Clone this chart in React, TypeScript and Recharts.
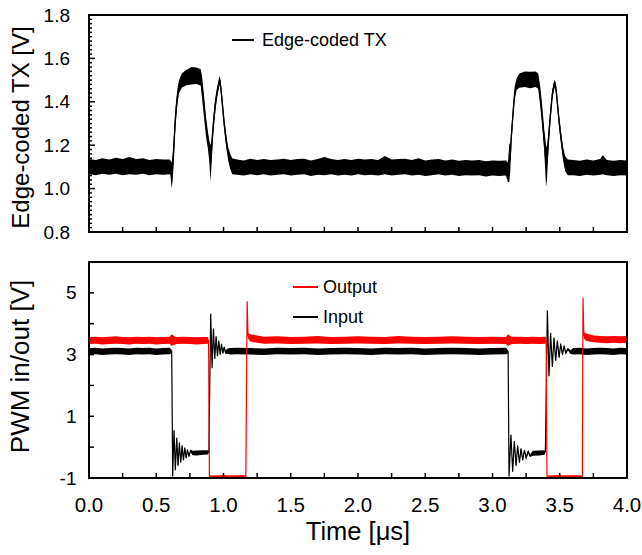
import React from 'react';
import { ComposedChart, Area, Line, XAxis, YAxis, ReferenceArea, Legend } from 'recharts';

const FONT = '"Liberation Sans", Arial, Helvetica, sans-serif';

// ---------- axes / labels ----------
const xTickLabels = ['0.0', '0.5', '1.0', '1.5', '2.0', '2.5', '3.0', '3.5', '4.0'];
const xMinorTicks = [0.25, 0.75, 1.25, 1.75, 2.25, 2.75, 3.25, 3.75];
const txTickLabels = ['0.8', '1.0', '1.2', '1.4', '1.6', '1.8'];
const pwmTickLabels = ['-1', '1', '3', '5'];
const pwmMinorTicks = [0, 2, 4, 6];
const txTitle = 'Edge-coded TX [V]';
const pwmTitle = 'PWM in/out [V]';
const timeTitle = 'Time [\u03bcs]';
const txName = 'Edge-coded TX';
const outName = 'Output';
const inName = 'Input';

// ---------- Edge-coded TX (envelope of noisy trace) ----------
const txTime = [
  0, 0.05, 0.10, 0.15, 0.20, 0.25, 0.30, 0.35, 0.40, 0.45, 0.50, 0.55, 0.60,
  0.605, 0.615, 0.622, 0.630, 0.640, 0.650, 0.660, 0.670, 0.690, 0.720, 0.760, 0.800, 0.830,
  0.840, 0.855, 0.870, 0.885, 0.895, 0.903, 0.910, 0.920, 0.935, 0.950, 0.965, 0.972, 0.980,
  0.990, 1.005, 1.020, 1.035, 1.050, 1.065,
  1.10, 1.15, 1.20, 1.25, 1.30, 1.35, 1.40, 1.45, 1.50, 1.55,
  1.60, 1.65, 1.70, 1.75, 1.80, 1.85, 1.90, 1.95, 2.00, 2.05,
  2.10, 2.15, 2.20, 2.25, 2.30, 2.35, 2.40, 2.45, 2.50, 2.55,
  2.60, 2.65, 2.70, 2.75, 2.80, 2.85, 2.90, 2.95, 3.00, 3.05,
  3.10,
  3.115, 3.125, 3.132, 3.140, 3.155, 3.165, 3.180, 3.200, 3.240, 3.280, 3.320, 3.340, 3.355, 3.370,
  3.385, 3.398, 3.405, 3.415, 3.430, 3.445, 3.460, 3.470, 3.480, 3.495, 3.510, 3.525, 3.540, 3.560,
  3.60, 3.65, 3.70, 3.75, 3.80, 3.82, 3.85, 3.90, 3.95, 4.00,
];
const txLow = [
  1.066, 1.062, 1.068, 1.064, 1.068, 1.062, 1.066, 1.064, 1.068, 1.062, 1.066, 1.064, 1.066,
  1.064, 1.000, 1.040, 1.120, 1.250, 1.340, 1.400, 1.440, 1.465, 1.475, 1.480, 1.482, 1.475,
  1.420, 1.330, 1.240, 1.180, 1.120, 1.030, 1.100, 1.220, 1.330, 1.410, 1.460, 1.480, 1.440,
  1.370, 1.270, 1.190, 1.130, 1.090, 1.066,
  1.064, 1.060, 1.066, 1.062, 1.066, 1.060, 1.064, 1.066, 1.060, 1.064,
  1.066, 1.058, 1.064, 1.062, 1.066, 1.060, 1.064, 1.060, 1.066, 1.062,
  1.064, 1.060, 1.066, 1.060, 1.064, 1.066, 1.060, 1.064, 1.058, 1.062,
  1.066, 1.060, 1.064, 1.058, 1.062, 1.060, 1.062, 1.056, 1.060, 1.058,
  1.060,
  1.030, 1.030, 1.080, 1.200, 1.330, 1.410, 1.455, 1.465, 1.468, 1.462, 1.468, 1.460, 1.380, 1.280,
  1.170, 1.010, 1.040, 1.170, 1.300, 1.410, 1.465, 1.450, 1.380, 1.280, 1.200, 1.130, 1.080, 1.062,
  1.062, 1.058, 1.064, 1.060, 1.064, 1.066, 1.062, 1.058, 1.062, 1.060,
];
const txHigh = [
  1.136, 1.132, 1.140, 1.134, 1.142, 1.136, 1.146, 1.136, 1.140, 1.132, 1.136, 1.134, 1.134,
  1.130, 1.120, 1.160, 1.240, 1.350, 1.420, 1.470, 1.500, 1.530, 1.545, 1.560, 1.558, 1.550,
  1.520, 1.430, 1.330, 1.260, 1.220, 1.200, 1.220, 1.300, 1.400, 1.460, 1.505, 1.520, 1.490,
  1.430, 1.330, 1.250, 1.190, 1.160, 1.140,
  1.134, 1.130, 1.138, 1.132, 1.136, 1.132, 1.134, 1.138, 1.132, 1.136,
  1.138, 1.130, 1.136, 1.146, 1.136, 1.132, 1.136, 1.132, 1.138, 1.134,
  1.136, 1.132, 1.150, 1.134, 1.136, 1.138, 1.132, 1.140, 1.130, 1.134,
  1.136, 1.130, 1.134, 1.128, 1.132, 1.130, 1.132, 1.126, 1.130, 1.128,
  1.130,
  1.120, 1.210, 1.200, 1.280, 1.400, 1.470, 1.510, 1.530, 1.540, 1.538, 1.540, 1.530, 1.470, 1.380,
  1.270, 1.200, 1.190, 1.260, 1.370, 1.460, 1.500, 1.490, 1.440, 1.340, 1.260, 1.190, 1.150, 1.134,
  1.132, 1.128, 1.134, 1.130, 1.136, 1.155, 1.132, 1.128, 1.132, 1.130,
];

// ---------- PWM Output (red) ----------
const outTime = [
  0, 0.05, 0.10, 0.15, 0.20, 0.25, 0.30, 0.35, 0.40, 0.45, 0.50, 0.55, 0.60,
  0.615, 0.625, 0.64,
  0.65, 0.70, 0.75, 0.80, 0.85,
  0.885, 0.889, 0.895,
  0.95, 1.00, 1.05, 1.10, 1.15,
  1.166, 1.176, 1.182, 1.20, 1.25,
  1.30, 1.40, 1.50, 1.60, 1.70, 1.80, 1.90, 2.00, 2.10, 2.20, 2.30, 2.40, 2.50, 2.60, 2.70, 2.80, 2.90, 3.00, 3.10,
  3.115, 3.125, 3.14,
  3.20, 3.25, 3.30, 3.35,
  3.395, 3.399, 3.405,
  3.45, 3.50, 3.55, 3.60, 3.65,
  3.668, 3.673, 3.679, 3.70, 3.75,
  3.80, 3.85, 3.90, 3.95, 4.00,
];
const outLow = [
  3.34, 3.35, 3.33, 3.34, 3.35, 3.34, 3.33, 3.35, 3.34, 3.35, 3.33, 3.34, 3.35,
  3.28, 3.30, 3.33,
  3.34, 3.35, 3.34, 3.33, 3.34,
  3.35, 3.42, -0.96,
  -0.97, -0.96, -0.97, -0.96, -0.97,
  -0.95, 4.73, 3.52, 3.42, 3.38,
  3.35, 3.36, 3.34, 3.35, 3.36, 3.34, 3.35, 3.36, 3.35, 3.34, 3.36, 3.35, 3.34, 3.35, 3.36, 3.35, 3.34, 3.35, 3.34,
  3.28, 3.30, 3.34,
  3.35, 3.34, 3.35, 3.34,
  3.35, 3.42, -0.96,
  -0.97, -0.96, -0.97, -0.96, -0.97,
  -0.95, 4.84, 3.52, 3.44, 3.40,
  3.38, 3.37, 3.38, 3.37, 3.38,
];
const outHigh = [
  3.57, 3.58, 3.56, 3.58, 3.59, 3.57, 3.56, 3.58, 3.57, 3.58, 3.56, 3.57, 3.58,
  3.66, 3.63, 3.58,
  3.57, 3.58, 3.57, 3.56, 3.57,
  3.57, 3.48, -0.92,
  -0.92, -0.91, -0.92, -0.92, -0.91,
  -0.93, 4.73, 3.70, 3.66, 3.62,
  3.58, 3.59, 3.57, 3.58, 3.60, 3.57, 3.58, 3.59, 3.58, 3.57, 3.60, 3.58, 3.57, 3.58, 3.59, 3.58, 3.57, 3.58, 3.57,
  3.66, 3.63, 3.58,
  3.58, 3.57, 3.58, 3.57,
  3.58, 3.48, -0.92,
  -0.92, -0.91, -0.92, -0.91, -0.92,
  -0.93, 4.84, 3.72, 3.68, 3.62,
  3.60, 3.59, 3.60, 3.59, 3.60,
];

// ---------- PWM Input (black) ----------
const inTime = [
  0, 0.05, 0.10, 0.15, 0.20, 0.25, 0.30, 0.35, 0.40, 0.45, 0.50, 0.55, 0.60,
  0.615, 0.622,
  0.632, 0.642, 0.652, 0.662, 0.672, 0.682, 0.692, 0.702, 0.712, 0.722, 0.732, 0.742, 0.755,
  0.77, 0.80, 0.85, 0.885,
  0.891, 0.905, 0.915, 0.925, 0.935, 0.945, 0.955, 0.965, 0.975, 0.985, 0.995, 1.005, 1.015, 1.03,
  1.05, 1.10, 1.20, 1.30, 1.40, 1.50, 1.60, 1.70, 1.80, 1.90, 2.00, 2.10, 2.20, 2.30, 2.40, 2.50, 2.60, 2.70, 2.80, 2.90, 3.00, 3.10,
  3.116, 3.123,
  3.137, 3.150, 3.162, 3.175, 3.187, 3.200, 3.212, 3.225, 3.237, 3.250, 3.265, 3.280,
  3.30, 3.35, 3.388,
  3.393, 3.408, 3.420, 3.432, 3.445, 3.457, 3.470, 3.482, 3.495, 3.507, 3.520, 3.532, 3.545, 3.56, 3.58,
  3.60, 3.65, 3.70, 3.75, 3.80, 3.85, 3.90, 3.95, 4.00,
];
const inLow = [
  3.00, 3.01, 2.99, 3.00, 3.01, 3.00, 2.99, 3.01, 3.00, 3.01, 2.99, 3.00, 3.01,
  3.05, -0.97,
  0.51, -0.79, 0.26, -0.64, 0.11, -0.54, 0.01, -0.46, -0.06, -0.39, -0.12, -0.34, -0.16,
  -0.26, -0.27, -0.25, -0.24,
  -0.17, 4.30, 2.53, 3.81, 2.83, 3.56, 2.92, 3.42, 2.97, 3.30, 3.00, 3.20, 3.02, 3.03,
  3.00, 3.01, 3.00, 2.99, 3.01, 3.00, 3.01, 2.99, 3.00, 3.01, 3.00, 2.99, 3.01, 3.00, 3.01, 2.99, 3.00, 3.01, 3.00, 2.99, 3.00, 3.01,
  3.04, -0.97,
  0.36, -0.84, 0.16, -0.64, 0.01, -0.54, -0.09, -0.46, -0.14, -0.39, -0.18, -0.32,
  -0.28, -0.27, -0.25,
  -0.16, 4.41, 2.27, 3.67, 2.57, 3.52, 2.77, 3.42, 2.87, 3.31, 2.96, 3.24, 3.01, 3.14, 3.02,
  3.00, 3.01, 2.99, 3.00, 3.01, 3.00, 2.99, 3.01, 3.00,
];
const inHigh = [
  3.21, 3.22, 3.20, 3.21, 3.22, 3.21, 3.20, 3.22, 3.21, 3.22, 3.20, 3.21, 3.22,
  3.15, -0.93,
  0.59, -0.71, 0.34, -0.56, 0.19, -0.46, 0.09, -0.38, 0.02, -0.31, -0.04, -0.26, -0.08,
  -0.12, -0.11, -0.10, -0.10,
  -0.17, 4.34, 2.59, 3.87, 2.89, 3.62, 2.98, 3.48, 3.03, 3.38, 3.08, 3.28, 3.12, 3.20,
  3.21, 3.22, 3.21, 3.20, 3.22, 3.21, 3.22, 3.20, 3.21, 3.22, 3.21, 3.20, 3.22, 3.21, 3.22, 3.20, 3.21, 3.22, 3.21, 3.20, 3.21, 3.22,
  3.14, -0.93,
  0.44, -0.76, 0.24, -0.56, 0.09, -0.46, -0.01, -0.38, -0.06, -0.31, -0.10, -0.24,
  -0.12, -0.11, -0.10,
  -0.16, 4.45, 2.33, 3.73, 2.63, 3.58, 2.83, 3.48, 2.93, 3.39, 3.04, 3.32, 3.09, 3.22, 3.14,
  3.21, 3.22, 3.20, 3.21, 3.22, 3.21, 3.20, 3.22, 3.21,
];

// ---------- helpers ----------
type Row = { t: number; band: [number, number]; mid: number };
function buildRows(t: number[], lo: number[], hi: number[]): Row[] {
  const n = Math.min(t.length, lo.length, hi.length);
  const rows: Row[] = [];
  for (let i = 0; i < n; i++) rows.push({ t: t[i], band: [lo[i], hi[i]], mid: (lo[i] + hi[i]) / 2 });
  return rows;
}
const txRows = buildRows(txTime, txLow, txHigh);
const outRows = buildRows(outTime, outLow, outHigh);
const inRows = buildRows(inTime, inLow, inHigh);

const near = (a: number, b: number) => Math.abs(a - b) < 1e-6;
const xTicks = [...xTickLabels.map(Number), ...xMinorTicks].sort((a, b) => a - b);
const txTicks: number[] = [];
for (let i = 0; i <= 50; i++) txTicks.push(Math.round((0.8 + i * 0.02) * 1000) / 1000);
const pwmTicks = [...pwmTickLabels.map(Number), ...pwmMinorTicks].sort((a, b) => a - b);

const TopXTick = (props: any) => {
  const { x, y } = props;
  return <line x1={x} y1={y} x2={x} y2={y - 5} stroke="#000" strokeWidth={1.5} />;
};
const BottomXTick = (props: any) => {
  const { x, y, payload } = props;
  const label = xTickLabels.find((l) => near(Number(l), payload.value));
  return (
    <g>
      <line x1={x} y1={y} x2={x} y2={y - 5} stroke="#000" strokeWidth={1.5} />
      {label && (
        <text x={x} y={y + 33.5} textAnchor="middle" fontSize={20.5} fontFamily={FONT} fill="#000">
          {label}
        </text>
      )}
    </g>
  );
};
const TxYTick = (props: any) => {
  const { x, y, payload } = props;
  const label = txTickLabels.find((l) => near(Number(l), payload.value));
  return (
    <g>
      <line x1={x} y1={y} x2={x + (label ? 6 : 3)} y2={y} stroke="#000" strokeWidth={1.5} />
      {label && (
        <text x={x - 19} y={y + 6.5} textAnchor="end" fontSize={19} fontFamily={FONT} fill="#000">
          {label}
        </text>
      )}
    </g>
  );
};
const PwmYTick = (props: any) => {
  const { x, y, payload } = props;
  const label = pwmTickLabels.find((l) => near(Number(l), payload.value));
  return (
    <g>
      <line x1={x} y1={y} x2={x + 5} y2={y} stroke="#000" strokeWidth={1.5} />
      {label && (
        <text x={x - 12.5} y={y + 6.5} textAnchor="end" fontSize={19} fontFamily={FONT} fill="#000">
          {label}
        </text>
      )}
    </g>
  );
};

const txTitleLabel = () => (
  <text x={28.5} y={127.5} transform="rotate(-90 28.5 127.5)" textAnchor="middle" fontSize={24} fontFamily={FONT} fill="#000">
    {txTitle}
  </text>
);
const pwmTitleLabel = () => (
  <text x={28.5} y={116.5} transform="rotate(-90 28.5 116.5)" textAnchor="middle" fontSize={26} fontFamily={FONT} fill="#000">
    {pwmTitle}
  </text>
);
const timeTitleLabel = () => (
  <text x={358} y={290} textAnchor="middle" fontSize={25.5} fontFamily={FONT} fill="#000">
    {timeTitle}
  </text>
);

const legendRow = (color: string, thick: number, len: number, gap: number, text: string, h: number) => (
  <div key={text} style={{ display: 'flex', alignItems: 'center', height: h }}>
    <span style={{ display: 'inline-block', width: len, height: thick, background: color, marginRight: gap }} />
    <span>{text}</span>
  </div>
);
const TopLegend = () => (
  <div style={{ fontFamily: FONT, fontSize: 18, color: '#000', lineHeight: '21px' }}>
    {legendRow('#000', 2, 22, 8, txName, 22)}
  </div>
);
const BottomLegend = () => (
  <div style={{ fontFamily: FONT, fontSize: 18, color: '#000', lineHeight: '21px' }}>
    {legendRow('#ff0000', 1.5, 25, 5, outName, 30)}
    {legendRow('#000', 1.5, 25, 5, inName, 30)}
  </div>
);

export default function App() {
  return (
    <div style={{ position: 'absolute', left: 0, top: 0, width: 642, height: 555, background: '#fff' }}>
      <div style={{ position: 'absolute', left: 0, top: 0 }}>
        <ComposedChart width={642} height={250} margin={{ top: 15, right: 15, bottom: 0, left: 0 }}>
          <XAxis
            dataKey="t"
            type="number"
            domain={[0, 4]}
            ticks={xTicks}
            interval={0}
            tick={TopXTick}
            tickLine={false}
            axisLine={false}
            tickSize={0}
            tickMargin={0}
            height={18}
            allowDataOverflow
          />
          <YAxis
            type="number"
            domain={[0.8, 1.8]}
            ticks={txTicks}
            interval={0}
            tick={TxYTick}
            tickLine={false}
            axisLine={false}
            tickSize={0}
            tickMargin={0}
            width={89}
            allowDataOverflow
            label={txTitleLabel}
          />
          <Legend
            layout="horizontal"
            verticalAlign="middle"
            align="center"
            content={TopLegend}
            wrapperStyle={{ left: 232, top: 29, width: 200, height: 22 }}
          />
          <Area data={txRows} dataKey="band" type="linear" stroke="none" fill="#000" fillOpacity={1} isAnimationActive={false} name={txName} />
          <Line data={txRows} dataKey="mid" type="linear" stroke="#000" strokeWidth={1.3} dot={false} activeDot={false} isAnimationActive={false} name={txName} legendType="none" />
          <ReferenceArea x1={0} x2={4} y1={0.8} y2={1.8} fill="none" fillOpacity={0} stroke="#000" strokeWidth={2} ifOverflow="visible" />
        </ComposedChart>
      </div>
      <div style={{ position: 'absolute', left: 0, top: 250 }}>
        <ComposedChart width={642} height={305} margin={{ top: 12, right: 15, bottom: 0, left: 0 }}>
          <XAxis
            dataKey="t"
            type="number"
            domain={[0, 4]}
            ticks={xTicks}
            interval={0}
            tick={BottomXTick}
            tickLine={false}
            axisLine={false}
            tickSize={0}
            tickMargin={0}
            height={77}
            allowDataOverflow
            label={timeTitleLabel}
          />
          <YAxis
            type="number"
            domain={[-1, 6]}
            ticks={pwmTicks}
            interval={0}
            tick={PwmYTick}
            tickLine={false}
            axisLine={false}
            tickSize={0}
            tickMargin={0}
            width={89}
            allowDataOverflow
            label={pwmTitleLabel}
          />
          <Legend
            layout="horizontal"
            verticalAlign="middle"
            align="center"
            content={BottomLegend}
            wrapperStyle={{ left: 293, top: 22, width: 150, height: 60 }}
          />
          <Area data={inRows} dataKey="band" type="linear" stroke="none" fill="#000" fillOpacity={1} isAnimationActive={false} name={inName} />
          <Line data={inRows} dataKey="mid" type="linear" stroke="#000" strokeWidth={1.2} dot={false} activeDot={false} isAnimationActive={false} name={inName} legendType="none" />
          <Area data={outRows} dataKey="band" type="linear" stroke="none" fill="#ff0000" fillOpacity={1} isAnimationActive={false} name={outName} />
          <Line data={outRows} dataKey="mid" type="linear" stroke="#ff0000" strokeWidth={1.2} dot={false} activeDot={false} isAnimationActive={false} name={outName} legendType="none" />
          <ReferenceArea x1={0} x2={4} y1={-1} y2={6} fill="none" fillOpacity={0} stroke="#000" strokeWidth={2} ifOverflow="visible" />
        </ComposedChart>
      </div>
    </div>
  );
}
